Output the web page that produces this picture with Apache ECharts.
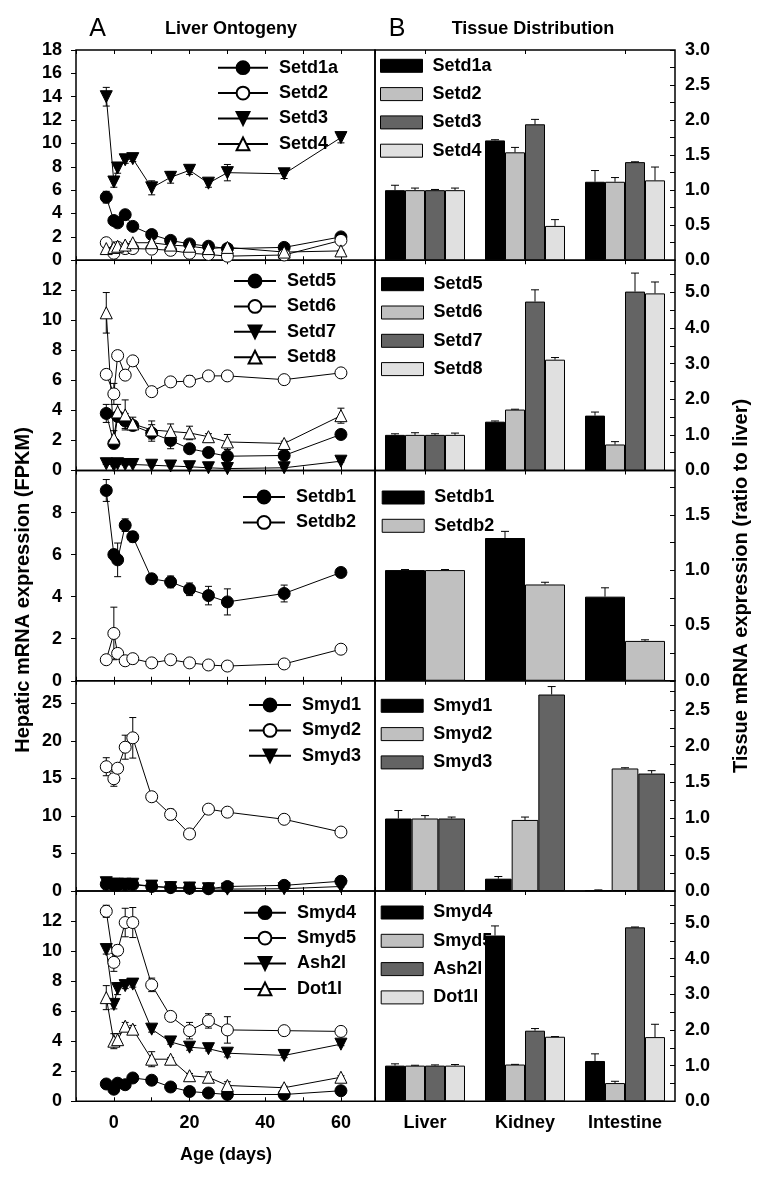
<!DOCTYPE html>
<html><head><meta charset="utf-8">
<script src="https://cdn.jsdelivr.net/npm/echarts@6/dist/echarts.min.js"></script>
<style>html,body{margin:0;padding:0;background:#fff}#c{width:765px;height:1178px}</style>
</head><body><div id="c"></div>
<script>
// ---------- DATA ----------
const days = [-2, 0, 1, 3, 5, 10, 15, 20, 25, 30, 45, 60];
const xTickLabels = [0, 20, 40, 60];
const tissues = ['Liver', 'Kidney', 'Intestine'];

// Liver ontogeny (FPKM) and SE
const setd1a = [5.4, 3.4, 3.2, 3.9, 2.9, 2.2, 1.7, 1.4, 1.2, 1.0, 1.1, 2.0];
const setd1aErr = [0.5, 0.15, 0.2, 0.15, 0.15, 0.2, 0.15, 0.1, 0.1, 0.1, 0.1, 0.15];
const setd2 = [1.5, 0.6, 1.1, 1.0, 1.0, 0.95, 0.85, 0.6, 0.5, 0.35, 0.45, 1.7];
const setd2Err = [0.1, 0.1, 0.1, 0.1, 0.1, 0.1, 0.1, 0.1, 0.1, 0.05, 0.05, 0.1];
const setd3 = [14.0, 6.7, 7.9, 8.6, 8.7, 6.2, 7.1, 7.7, 6.6, 7.5, 7.4, 10.5];
const setd3Err = [0.8, 0.45, 0.45, 0.3, 0.25, 0.6, 0.5, 0.35, 0.35, 0.7, 0.4, 0.45];
const setd4 = [1.0, 1.1, 1.2, 1.3, 1.5, 1.5, 1.3, 1.2, 1.0, 1.1, 0.7, 0.8];
const setd4Err = [0.1, 0.1, 0.1, 0.1, 0.1, 0.1, 0.1, 0.1, 0.1, 0.1, 0.05, 0.05];

const setd5 = [3.8, 1.8, 3.6, 3.3, 3.0, 2.5, 2.0, 1.45, 1.2, 0.95, 1.0, 2.4];
const setd5Err = [0.6, 0.2, 0.3, 0.5, 0.3, 0.55, 0.55, 0.2, 0.15, 0.15, 0.1, 0.15];
const setd6 = [6.4, 5.1, 7.65, 6.35, 7.3, 5.25, 5.9, 5.95, 6.3, 6.3, 6.05, 6.5];
const setd6Err = [0.3, 0.7, 0.3, 0.2, 0.2, 0.2, 0.25, 0.35, 0.2, 0.3, 0.2, 0.2];
const setd7 = [0.45, 0.35, 0.45, 0.4, 0.4, 0.35, 0.3, 0.25, 0.18, 0.13, 0.18, 0.62];
const setd7Err = [0.05, 0.05, 0.05, 0.05, 0.05, 0.05, 0.05, 0.05, 0.05, 0.05, 0.05, 0.05];
const setd8 = [10.5, 2.15, 3.9, 3.7, 3.1, 2.7, 2.6, 2.5, 2.25, 1.9, 1.8, 3.65];
const setd8Err = [1.35, 0.5, 0.5, 1.0, 0.45, 0.6, 0.5, 0.45, 0.2, 0.5, 0.15, 0.5];

const setdb1 = [9.05, 6.0, 5.75, 7.4, 6.85, 4.85, 4.7, 4.35, 4.05, 3.75, 4.15, 5.15];
const setdb1Err = [0.52, 0.25, 0.8, 0.3, 0.25, 0.15, 0.28, 0.3, 0.44, 0.62, 0.4, 0.1];
const setdb2 = [1.0, 2.25, 1.3, 0.95, 1.05, 0.85, 1.0, 0.85, 0.75, 0.7, 0.8, 1.5];
const setdb2Err = [0.1, 1.25, 0.2, 0.1, 0.1, 0.2, 0.15, 0.1, 0.15, 0.1, 0.1, 0.1];

const smyd1 = [0.9, 0.8, 0.8, 0.85, 0.85, 0.6, 0.45, 0.35, 0.3, 0.6, 0.75, 1.3];
const smyd1Err = [0.1, 0.1, 0.1, 0.1, 0.1, 0.1, 0.1, 0.1, 0.1, 0.1, 0.1, 0.1];
const smyd2 = [16.55, 14.95, 16.35, 19.15, 20.4, 12.55, 10.2, 7.6, 10.9, 10.5, 9.55, 7.85];
const smyd2Err = [1.2, 1.0, 0.5, 1.6, 2.7, 0.5, 0.7, 0.3, 0.5, 0.3, 0.5, 0.3];
const smyd3 = [1.1, 0.9, 0.9, 0.9, 0.9, 0.65, 0.45, 0.4, 0.3, 0.25, 0.3, 0.6];
const smyd3Err = [0.1, 0.1, 0.1, 0.1, 0.1, 0.1, 0.1, 0.1, 0.1, 0.1, 0.1, 0.1];

const smyd4 = [1.15, 0.8, 1.2, 1.1, 1.55, 1.4, 0.95, 0.65, 0.55, 0.45, 0.45, 0.7];
const smyd4Err = [0.1, 0.1, 0.1, 0.1, 0.1, 0.1, 0.1, 0.1, 0.1, 0.1, 0.1, 0.1];
const smyd5 = [12.65, 9.25, 10.05, 11.9, 11.9, 7.75, 5.65, 4.7, 5.35, 4.75, 4.7, 4.65];
const smyd5Err = [0.4, 0.6, 0.35, 0.95, 1.0, 0.45, 0.2, 0.55, 0.48, 0.88, 0.1, 0.1];
const ash2l = [10.1, 6.45, 7.5, 7.7, 7.8, 4.8, 3.95, 3.6, 3.5, 3.2, 3.05, 3.8];
const ash2lErr = [0.3, 0.3, 0.4, 0.2, 0.2, 0.2, 0.15, 0.2, 0.15, 0.25, 0.15, 0.1];
const dot1l = [6.9, 4.0, 4.1, 5.0, 4.8, 2.8, 2.8, 1.7, 1.6, 1.05, 0.9, 1.6];
const dot1lErr = [0.8, 0.5, 0.4, 0.25, 0.25, 0.5, 0.1, 0.15, 0.35, 0.25, 0.1, 0.1];

// Tissue distribution (ratio to liver) and SE
const tSetd1a = [1.0, 1.71, 1.12]; const tSetd1aErr = [0.07, 0.01, 0.16];
const tSetd2 = [1.0, 1.54, 1.12]; const tSetd2Err = [0.03, 0.07, 0.06];
const tSetd3 = [1.0, 1.94, 1.40]; const tSetd3Err = [0.01, 0.07, 0.005];
const tSetd4 = [1.0, 0.49, 1.14]; const tSetd4Err = [0.03, 0.09, 0.19];
const tSetd5 = [1.0, 1.37, 1.54]; const tSetd5Err = [0.03, 0.02, 0.1];
const tSetd6 = [1.0, 1.71, 0.73]; const tSetd6Err = [0.06, 0.01, 0.08];
const tSetd7 = [1.0, 4.74, 5.02]; const tSetd7Err = [0.03, 0.33, 0.52];
const tSetd8 = [1.0, 3.11, 4.97]; const tSetd8Err = [0.05, 0.06, 0.32];
const tSetdb1 = [1.0, 1.29, 0.76]; const tSetdb1Err = [0.005, 0.06, 0.08];
const tSetdb2 = [1.0, 0.87, 0.36]; const tSetdb2Err = [0.005, 0.02, 0.01];
const tSmyd1 = [1.0, 0.17, 0.01]; const tSmyd1Err = [0.11, 0.03, 0.005];
const tSmyd2 = [1.0, 0.98, 1.69]; const tSmyd2Err = [0.04, 0.04, 0.01];
const tSmyd3 = [1.0, 2.71, 1.62]; const tSmyd3Err = [0.02, 0.11, 0.04];
const tSmyd4 = [1.0, 4.65, 1.13]; const tSmyd4Err = [0.05, 0.27, 0.2];
const tSmyd5 = [1.0, 1.03, 0.51]; const tSmyd5Err = [0.01, 0.005, 0.05];
const tAsh2l = [1.0, 1.98, 4.88]; const tAsh2lErr = [0.02, 0.06, 0.01];
const tDot1l = [1.0, 1.81, 1.80]; const tDot1lErr = [0.03, 0.005, 0.36];

// ---------- LAYOUT / STYLE ----------
const FONT = '"Liberation Sans", Arial, Helvetica, sans-serif';
const rowTops = [50, 260.25, 470.5, 680.75, 891];
const rowH = 210.25;
const LX = 76, LW = 299, RX = 375, RW = 300;

const markers = [
  { symbol: 'circle', fill: '#000', rot: 0 },
  { symbol: 'circle', fill: '#fff', rot: 0 },
  { symbol: 'triangle', fill: '#000', rot: 180 },
  { symbol: 'triangle', fill: '#fff', rot: 0 }
];
const barColors = ['#000000', '#c0c0c0', '#646464', '#e0e0e0'];

const leftPanels = [
  { names: ['Setd1a', 'Setd2', 'Setd3', 'Setd4'], vals: [setd1a, setd2, setd3, setd4], errs: [setd1aErr, setd2Err, setd3Err, setd4Err], max: 18, step: 2, showMax: true, legLeft: 217, legCy: 66.7, legW: 50 },
  { names: ['Setd5', 'Setd6', 'Setd7', 'Setd8'], vals: [setd5, setd6, setd7, setd8], errs: [setd5Err, setd6Err, setd7Err, setd8Err], max: 14, step: 2, showMax: false, legLeft: 233, legCy: 280, legW: 42 },
  { names: ['Setdb1', 'Setdb2'], vals: [setdb1, setdb2], errs: [setdb1Err, setdb2Err], max: 10, step: 2, showMax: false, legLeft: 242, legCy: 496, legW: 42 },
  { names: ['Smyd1', 'Smyd2', 'Smyd3'], vals: [smyd1, smyd2, smyd3], errs: [smyd1Err, smyd2Err, smyd3Err], max: 28, step: 5, showMax: false, legLeft: 248, legCy: 704, legW: 42 },
  { names: ['Smyd4', 'Smyd5', 'Ash2l', 'Dot1l'], vals: [smyd4, smyd5, ash2l, dot1l], errs: [smyd4Err, smyd5Err, ash2lErr, dot1lErr], max: 14, step: 2, showMax: false, legLeft: 243, legCy: 911.7, legW: 42 }
];
const rightPanels = [
  { names: ['Setd1a', 'Setd2', 'Setd3', 'Setd4'], vals: [tSetd1a, tSetd2, tSetd3, tSetd4], errs: [tSetd1aErr, tSetd2Err, tSetd3Err, tSetd4Err], max: 3.0, tick: 0.25, lab: 0.5, showMax: true, legLeft: 380, legCy: 63.3 },
  { names: ['Setd5', 'Setd6', 'Setd7', 'Setd8'], vals: [tSetd5, tSetd6, tSetd7, tSetd8], errs: [tSetd5Err, tSetd6Err, tSetd7Err, tSetd8Err], max: 5.9, tick: 0.5, lab: 1.0, showMax: false, legLeft: 381, legCy: 281.7 },
  { names: ['Setdb1', 'Setdb2'], vals: [tSetdb1, tSetdb2], errs: [tSetdb1Err, tSetdb2Err], max: 1.9, tick: 0.25, lab: 0.5, showMax: false, legLeft: 381.7, legCy: 495 },
  { names: ['Smyd1', 'Smyd2', 'Smyd3'], vals: [tSmyd1, tSmyd2, tSmyd3], errs: [tSmyd1Err, tSmyd2Err, tSmyd3Err], max: 2.9, tick: 0.25, lab: 0.5, showMax: false, legLeft: 380.7, legCy: 703.3 },
  { names: ['Smyd4', 'Smyd5', 'Ash2l', 'Dot1l'], vals: [tSmyd4, tSmyd5, tAsh2l, tDot1l], errs: [tSmyd4Err, tSmyd5Err, tAsh2lErr, tDot1lErr], max: 5.9, tick: 0.5, lab: 1.0, showMax: false, legLeft: 380.7, legCy: 910 }
];

const labelStyle = { color: '#000', fontWeight: 'bold', fontSize: 18, fontFamily: FONT };
const grids = [], xAxes = [], yAxes = [], series = [], legends = [];

function lineErrRender(params, api) {
  const x = api.value(0), y = api.value(1), e = api.value(2);
  const t = api.coord([x, y + e]), b = api.coord([x, y - e]);
  const w = 3.5, st = { stroke: '#000', lineWidth: 1 };
  return { type: 'group', children: [
    { type: 'line', shape: { x1: t[0], y1: t[1], x2: b[0], y2: b[1] }, style: st },
    { type: 'line', shape: { x1: t[0] - w, y1: t[1], x2: t[0] + w, y2: t[1] }, style: st },
    { type: 'line', shape: { x1: b[0] - w, y1: b[1], x2: b[0] + w, y2: b[1] }, style: st }
  ]};
}
function barErrRender(idx, n) {
  return function (params, api) {
    const c = api.value(0), y = api.value(1), e = api.value(2);
    const band = api.size([1, 0])[0];
    const bw = band * 0.8 / n;
    const off = -band * 0.4 + bw * (idx + 0.5);
    const p0 = api.coord([c, y]), p1 = api.coord([c, y + e]);
    const x = p0[0] + off, w = 4, st = { stroke: '#000', lineWidth: 1 };
    return { type: 'group', children: [
      { type: 'line', shape: { x1: x, y1: p0[1], x2: x, y2: p1[1] }, style: st },
      { type: 'line', shape: { x1: x - w, y1: p1[1], x2: x + w, y2: p1[1] }, style: st }
    ]};
  };
}

rowTops.forEach((top, r) => {
  const L = leftPanels[r], R = rightPanels[r];
  const last = r === rowTops.length - 1;
  grids.push({ left: LX, top: top, width: LW, height: rowH, show: true, borderColor: '#000', borderWidth: 1.5, outerBoundsMode: 'none' });
  grids.push({ left: RX, top: top, width: RW, height: rowH, show: true, borderColor: '#000', borderWidth: 1.5, outerBoundsMode: 'none' });
  const gL = 2 * r, gR = 2 * r + 1;
  const tick = { show: true, inside: true, length: 4, lineStyle: { color: '#000', width: 1 } };
  xAxes.push({ type: 'value', gridIndex: gL, position: 'bottom', min: -10, max: 69, interval: 10,
    axisLine: { show: false, onZero: false }, splitLine: { show: false }, axisTick: tick,
    axisLabel: { show: last, margin: 13, ...labelStyle, formatter: v => xTickLabels.includes(v) ? String(v) : '' } });
  xAxes.push({ type: 'value', gridIndex: gL, position: 'top', min: -10, max: 69, interval: 10,
    axisLine: { show: false, onZero: false }, splitLine: { show: false }, axisTick: tick,
    axisLabel: { show: false } });
  xAxes.push({ type: 'category', gridIndex: gR, position: 'bottom', data: tissues,
    axisLine: { show: false, onZero: false }, splitLine: { show: false },
    axisTick: { ...tick, alignWithLabel: true },
    axisLabel: { show: last, margin: 13, ...labelStyle } });
  xAxes.push({ type: 'category', gridIndex: gR, position: 'top', data: tissues,
    axisLine: { show: false, onZero: false }, splitLine: { show: false },
    axisTick: { ...tick, alignWithLabel: true },
    axisLabel: { show: false } });
  yAxes.push({ type: 'value', gridIndex: gL, position: 'left', min: 0, max: L.max, interval: L.step,
    axisLine: { show: false, onZero: false }, splitLine: { show: false },
    axisTick: { show: true, inside: false, length: 5, lineStyle: { color: '#000', width: 1 } },
    axisLabel: { margin: 14, ...labelStyle, formatter: v => (Math.abs(v - L.max) < 1e-9 && !L.showMax) ? '' : String(Math.round(v)) } });
  yAxes.push({ type: 'value', gridIndex: gR, position: 'right', min: 0, max: R.max, interval: R.tick,
    axisLine: { show: false, onZero: false }, splitLine: { show: false },
    axisTick: { show: true, inside: true, length: 5, lineStyle: { color: '#000', width: 1 } },
    axisLabel: { margin: 10, ...labelStyle, formatter: v => {
      if (v > R.max - 1e-9 && !R.showMax) return '';
      const k = v / R.lab;
      return Math.abs(k - Math.round(k)) < 1e-6 ? v.toFixed(1) : '';
    } } });

  // left: line series with error bars
  L.names.forEach((nm, i) => {
    const m = markers[i];
    series.push({ type: 'custom', xAxisIndex: 4 * r, yAxisIndex: gL, z: 1, silent: true,
      data: days.map((d, j) => [d, L.vals[i][j], L.errs[i][j]]), encode: { x: 0, y: 1 }, renderItem: lineErrRender });
    series.push({ type: 'line', name: nm, xAxisIndex: 4 * r, yAxisIndex: gL, z: 3,
      data: days.map((d, j) => [d, L.vals[i][j]]),
      symbol: m.symbol, symbolSize: 12, symbolRotate: m.rot, showAllSymbol: true,
      itemStyle: { color: m.fill, borderColor: '#000', borderWidth: 1 },
      lineStyle: { color: '#000', width: 1 } });
  });
  legends.push({ data: L.names, orient: 'vertical', left: L.legLeft, top: L.legCy - 8, padding: 0,
    itemWidth: L.legW, itemHeight: 16, itemGap: 7.4, selectedMode: false,
    textStyle: { color: '#000', fontWeight: 'bold', fontSize: 18, fontFamily: FONT, lineHeight: 16, padding: [0, 0, 0, 6] } });

  // right: bars with upper error bars
  const n = R.names.length;
  R.names.forEach((nm, i) => {
    series.push({ type: 'bar', name: nm, xAxisIndex: 4 * r + 2, yAxisIndex: gR, z: 2,
      data: R.vals[i], barGap: '0%', barCategoryGap: '20%',
      itemStyle: { color: barColors[i], borderColor: '#000', borderWidth: 1 } });
    series.push({ type: 'custom', xAxisIndex: 4 * r + 2, yAxisIndex: gR, z: 3, silent: true,
      data: tissues.map((t, j) => [j, R.vals[i][j], R.errs[i][j]]), encode: { x: 0, y: 1 }, renderItem: barErrRender(i, n) });
  });
  legends.push({
    data: R.names.map((nm, i) => ({ name: nm, icon: 'rect', itemStyle: { color: barColors[i], borderColor: '#000', borderWidth: 1 } })),
    orient: 'vertical', left: R.legLeft, top: R.legCy - 6.5, padding: 0,
    icon: 'rect', itemWidth: 42, itemHeight: 13, itemGap: 10.3, selectedMode: false,
    textStyle: { color: '#000', fontWeight: 'bold', fontSize: 18, fontFamily: FONT, lineHeight: 13, padding: [0, 0, 0, 5] } });
});

const txt = (x, y, text, size, weight, rot) => ({ type: 'text', x: x, y: y, rotation: rot || 0, silent: true,
  style: { text: text, fill: '#000', fontSize: size, fontWeight: weight, fontFamily: FONT, align: 'center', verticalAlign: 'middle' } });

const option = {
  animation: false,
  backgroundColor: '#fff',
  grid: grids, xAxis: xAxes, yAxis: yAxes, series: series, legend: legends,
  graphic: [
    txt(97.5, 29, 'A', 25, 'normal'),
    txt(231, 29, 'Liver Ontogeny', 18, 'bold'),
    txt(397, 29, 'B', 25, 'normal'),
    txt(533, 29, 'Tissue Distribution', 18, 'bold'),
    txt(23.5, 590, 'Hepatic mRNA expression (FPKM)', 20, 'bold', Math.PI / 2),
    txt(741, 586, 'Tissue mRNA expression (ratio to liver)', 20, 'bold', Math.PI / 2),
    txt(226, 1155, 'Age (days)', 18, 'bold')
  ]
};
const chart = echarts.init(document.getElementById('c'));
chart.setOption(option);
</script></body></html>
